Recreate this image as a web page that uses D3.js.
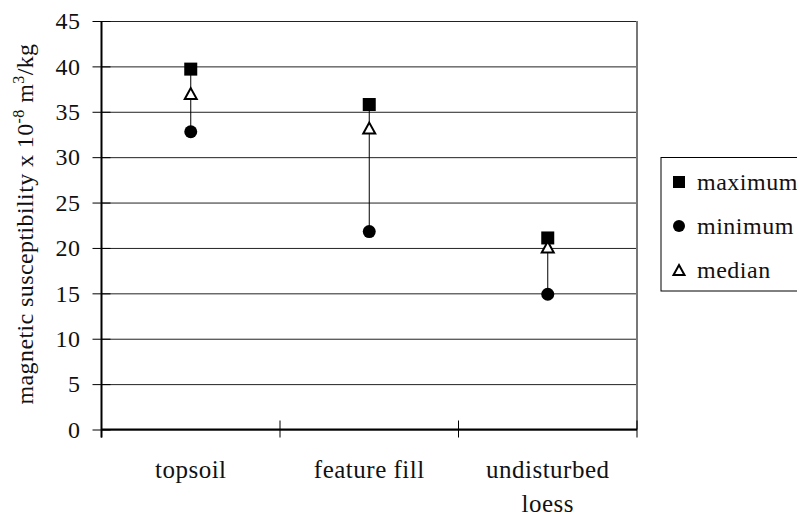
<!DOCTYPE html>
<html>
<head>
<meta charset="utf-8">
<script src="https://cdn.jsdelivr.net/npm/d3@7"></script>
<style>
body { margin: 0; background: #fff; }
svg text { font-family: "Liberation Serif", "DejaVu Serif", serif; }
</style>
</head>
<body>
<div id="chart"></div>
<script>
// values
var categories = ["topsoil", "feature fill", "undisturbed loess"];
var catLines = [["topsoil"], ["feature fill"], ["undisturbed", "loess"]];
var maxVals = [39.7, 35.8, 21.1];
var minVals = [32.8, 21.8, 14.9];
var medVals = [37.0, 33.2, 20.1];
var yTicks = [0, 5, 10, 15, 20, 25, 30, 35, 40, 45];
var legendNames = ["maximum", "minimum", "median"];

var W = 797, H = 517;
var plotL = 101.5, plotR = 637, plotT = 21, plotB = 429.5;
var serif = "'Liberation Serif', 'DejaVu Serif', serif";

var svg = d3.select("#chart").append("svg")
    .attr("width", W)
    .attr("height", H)
    .style("font-family", serif);

var x = d3.scaleBand().domain(categories).range([plotL, plotR]).paddingInner(0).paddingOuter(0);
var y = d3.scaleLinear().domain([0, 45]).range([plotB, plotT]);

// grid lines
svg.append("g")
    .attr("transform", "translate(" + plotL + ",0)")
    .call(d3.axisLeft(y).tickValues(yTicks).tickSize(-(plotR - plotL)).tickFormat(""))
    .call(function(g){
        g.select(".domain").remove();
        g.selectAll("line").attr("stroke", "#222").attr("stroke-width", 1);
    });

// right border
svg.append("line")
    .attr("x1", plotR).attr("x2", plotR)
    .attr("y1", plotT).attr("y2", plotB)
    .attr("stroke", "#777").attr("stroke-width", 2);

// y axis, ticks cross the axis
var yAxis = svg.append("g")
    .attr("transform", "translate(" + plotL + ",0)")
    .call(d3.axisLeft(y).tickValues(yTicks).tickSize(9).tickPadding(12));
yAxis.attr("font-family", serif);
yAxis.select(".domain").remove();
yAxis.selectAll(".tick line").attr("x1", -9).attr("x2", 9).attr("stroke", "#000");
yAxis.selectAll(".tick text")
    .style("font-family", serif)
    .attr("font-size", 24)
    .attr("letter-spacing", 0.5)
    .attr("fill", "#111");
svg.append("line")
    .attr("x1", plotL).attr("x2", plotL)
    .attr("y1", plotT).attr("y2", plotB + 8)
    .attr("stroke", "#000").attr("stroke-width", 2);

// x axis
svg.append("line")
    .attr("x1", plotL).attr("x2", plotR)
    .attr("y1", plotB).attr("y2", plotB)
    .attr("stroke", "#000").attr("stroke-width", 2);
var edges = categories.map(function(c){ return x(c); }).concat([x(categories[categories.length - 1]) + x.bandwidth()]);
svg.append("g").selectAll("line")
    .data(edges)
    .enter()
    .append("line")
    .attr("x1", function(d){ return d; })
    .attr("x2", function(d){ return d; })
    .attr("y1", plotB - 9)
    .attr("y2", plotB + 8)
    .attr("stroke", "#000");

// category labels
categories.forEach(function(c, i){
    var t = svg.append("text")
        .attr("x", x(c) + x.bandwidth() / 2)
        .attr("y", 478)
        .attr("text-anchor", "middle")
        .attr("font-size", 25)
        .attr("letter-spacing", 0.5)
        .attr("fill", "#111");
    catLines[i].forEach(function(line, j){
        t.append("tspan")
            .attr("x", x(c) + x.bandwidth() / 2)
            .attr("dy", j == 0 ? 0 : 34)
            .text(line);
    });
});

// y label
var yl = svg.append("text")
    .attr("transform", "translate(33,224) rotate(-90)")
    .attr("text-anchor", "middle")
    .attr("font-size", 24)
    .attr("letter-spacing", 0.4)
    .attr("fill", "#111");
yl.append("tspan").text("magnetic susceptibility x 10");
yl.append("tspan").attr("font-size", 16).attr("dy", -9).text("-8");
yl.append("tspan").attr("dy", 9).text("  m");
yl.append("tspan").attr("font-size", 16).attr("dy", -9).text("3");
yl.append("tspan").attr("dy", 9).text("/kg");

// marker shapes
function triPath(w, h){
    return "M0," + (-h / 2) + "L" + (w / 2) + "," + (h / 2) + "L" + (-w / 2) + "," + (h / 2) + "Z";
}

// connecting lines
svg.append("g").selectAll("line")
    .data(categories)
    .enter()
    .append("line")
    .attr("x1", function(d){ return x(d) + x.bandwidth() / 2; })
    .attr("x2", function(d){ return x(d) + x.bandwidth() / 2; })
    .attr("y1", function(d, i){ return y(maxVals[i]); })
    .attr("y2", function(d, i){ return y(minVals[i]); })
    .attr("stroke", "#000")
    .attr("stroke-width", 1);

var cx = function(d, i){ return x(categories[i]) + x.bandwidth() / 2; };

svg.append("g").selectAll("rect")
    .data(maxVals)
    .enter()
    .append("rect")
    .attr("x", function(d, i){ return cx(d, i) - 6.5; })
    .attr("y", function(d){ return y(d) - 6.5; })
    .attr("width", 13)
    .attr("height", 13)
    .attr("fill", "#000");

svg.append("g").selectAll("circle")
    .data(minVals)
    .enter()
    .append("circle")
    .attr("cx", cx)
    .attr("cy", function(d){ return y(d); })
    .attr("r", 6.5)
    .attr("fill", "#000");

svg.append("g").selectAll("path")
    .data(medVals)
    .enter()
    .append("path")
    .attr("d", triPath(12, 11))
    .attr("transform", function(d, i){ return "translate(" + cx(d, i) + "," + y(d) + ")"; })
    .attr("fill", "#fff")
    .attr("stroke", "#000")
    .attr("stroke-width", 2);

// legend
var legend = svg.append("g").attr("class", "legend");
legend.append("rect")
    .attr("x", 661).attr("y", 157.5)
    .attr("width", 150).attr("height", 133.5)
    .attr("fill", "#fff").attr("stroke", "#000").attr("stroke-width", 1);
var ly = d3.scalePoint().domain(legendNames).range([182, 270]);
legend.append("rect")
    .attr("x", 673).attr("y", ly("maximum") - 6)
    .attr("width", 12).attr("height", 12).attr("fill", "#000");
legend.append("circle")
    .attr("cx", 679).attr("cy", ly("minimum"))
    .attr("r", 6).attr("fill", "#000");
legend.append("path")
    .attr("d", triPath(11, 10))
    .attr("transform", "translate(679," + ly("median") + ")")
    .attr("fill", "#fff").attr("stroke", "#000").attr("stroke-width", 2);
legend.selectAll("text")
    .data(legendNames)
    .enter()
    .append("text")
    .attr("x", 697)
    .attr("y", function(d){ return ly(d) + 8; })
    .attr("font-size", 24)
    .attr("letter-spacing", 0.5)
    .attr("fill", "#111")
    .text(function(d){ return d; });
</script>
</body>
</html>
